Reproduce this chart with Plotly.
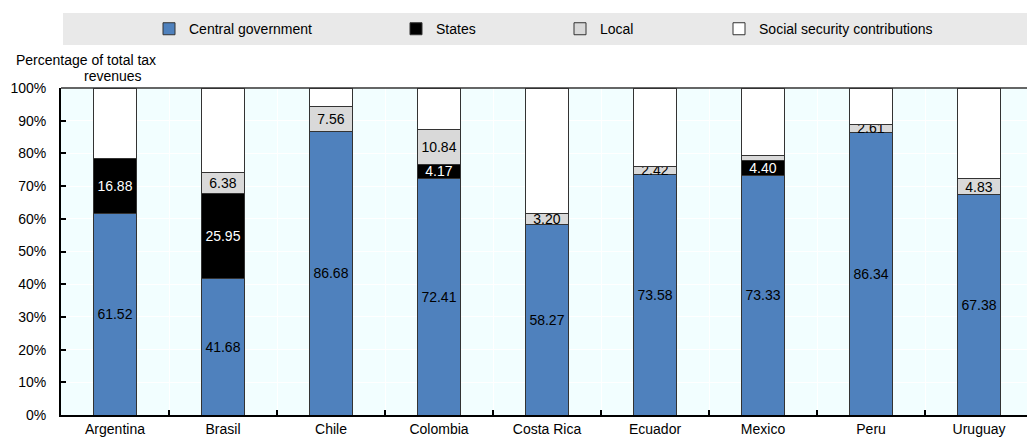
import plotly.graph_objects as go

countries = ["Argentina", "Brasil", "Chile", "Colombia", "Costa Rica",
             "Ecuador", "Mexico", "Peru", "Uruguay"]
central = [61.52, 41.68, 86.68, 72.41, 58.27, 73.58, 73.33, 86.34, 67.38]
states = [16.88, 25.95, 0, 4.17, 0, 0, 4.40, 0, 0]
local = [0, 6.38, 7.56, 10.84, 3.20, 2.42, 1.60, 2.61, 4.83]
social = [21.60, 25.99, 5.76, 12.58, 38.53, 24.00, 20.67, 11.05, 27.79]

FONT = "Liberation Sans, Arial, sans-serif"


def labels(vals):
    # segments below 2% carry no label in the source chart
    return [f"{v:.2f}" if v >= 2 else "" for v in vals]


series = [
    ("Central government", central, "#4F81BD", "#000000", True, 202),
    ("States", states, "#000000", "#ffffff", True, 119),
    ("Local", local, "#D9D9D9", "#000000", True, 114),
    ("Social security contributions", social, "#FFFFFF", "#000000", False, 175),
]

fig = go.Figure()
for name, vals, color, tcolor, show_text, lw in series:
    fig.add_trace(go.Bar(
        name=name, x=countries, y=vals, width=0.40,
        marker=dict(color=color, line=dict(color="#333333", width=1)),
        text=labels(vals) if show_text else None,
        textposition="inside" if show_text else "none",
        insidetextanchor="middle", textangle=0,
        textfont=dict(size=14, color=tcolor, family=FONT),
        legendwidth=lw, hoverinfo="skip",
    ))

fig.update_layout(
    width=1027, height=437,
    margin=dict(l=61, r=0, t=88, b=22),
    barmode="stack",
    paper_bgcolor="white",
    plot_bgcolor="#F2FEFF",
    font=dict(family=FONT, size=14, color="#000000"),
    uniformtext=dict(minsize=14, mode="show"),
    showlegend=True,
    legend=dict(orientation="h", x=0.0911, xanchor="left", y=1.18, yanchor="middle",
                bgcolor="rgba(0,0,0,0)", traceorder="normal",
                font=dict(size=14, family=FONT)),
    xaxis=dict(type="category", range=[-0.5, 8.444], tickson="boundaries",
               ticks="inside", ticklen=5, tickwidth=1.5, tickcolor="#000000",
               showgrid=True, gridcolor="#FFFFFF", gridwidth=1,
               showline=True, linecolor="#000000", linewidth=2,
               tickfont=dict(size=14)),
    yaxis=dict(range=[0, 100], dtick=10, ticksuffix="%",
               ticks="inside", ticklen=5, tickwidth=1.5, tickcolor="#000000",
               showgrid=True, gridcolor="#FFFFFF", gridwidth=1,
               zeroline=False, showline=True, linecolor="#000000", linewidth=2,
               ticklabelstandoff=10, tickfont=dict(size=14)),
    shapes=[
        dict(type="rect", xref="paper", yref="paper", x0=0.0021, x1=1.01,
             y0=1.1315, y1=1.2294, fillcolor="#E9E9E9", line=dict(width=0),
             layer="below"),
        dict(type="line", xref="paper", yref="paper", x0=0, x1=1, y0=1, y1=1,
             line=dict(color="#333333", width=1.5)),
    ],
    annotations=[
        dict(text="Percentage of total tax", xref="paper", yref="paper",
             x=-0.0487, y=1.0856, xanchor="left", yanchor="middle",
             showarrow=False, font=dict(size=14)),
        dict(text="revenues", xref="paper", yref="paper",
             x=0.0217, y=1.0367, xanchor="left", yanchor="middle",
             showarrow=False, font=dict(size=14)),
    ],
)

fig.write_html("out.html")
